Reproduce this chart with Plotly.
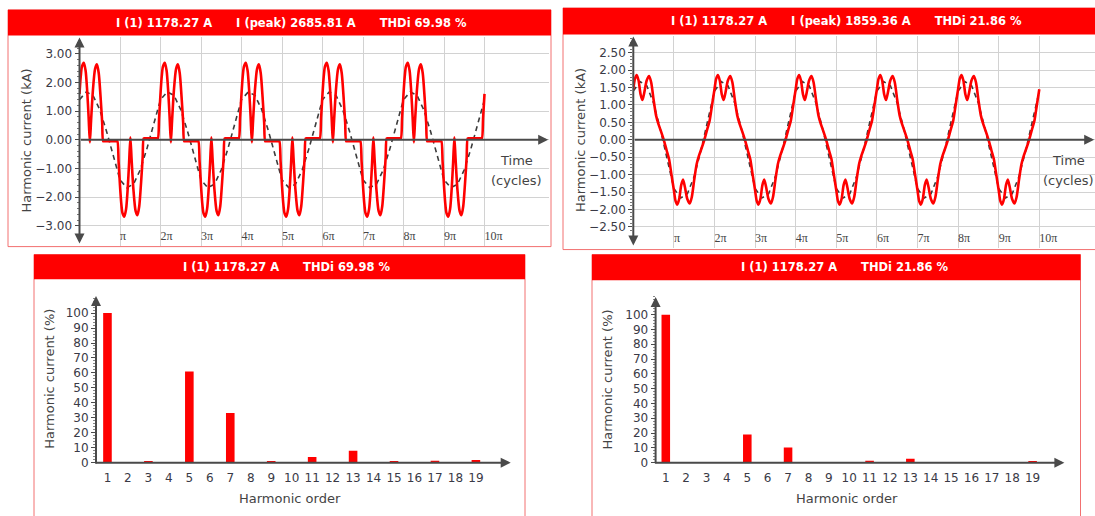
import numpy as np
import plotly.graph_objects as go

W, H = 1095, 516

# ---------------- data ----------------
# One cycle of the line current, time in multiples of pi, current in kA
left_cycle_t = [0.000, 0.030, 0.060, 0.105, 0.150, 0.190, 0.225, 0.256, 0.285, 0.330,
                0.385, 0.430, 0.475, 0.520, 0.560, 0.585, 0.620, 0.900, 0.935, 0.965,
                1.000, 1.030, 1.060, 1.105, 1.150, 1.190, 1.225, 1.256, 1.285, 1.330,
                1.385, 1.430, 1.475, 1.520, 1.560, 1.585, 1.620, 1.900, 1.935, 1.965]
left_cycle_i = [1.60, 2.20, 2.55, 2.68581, 2.42, 1.70, 0.80, -0.09, 0.65, 1.71,
                2.48, 2.63, 2.32, 1.50, 0.60, -0.05, -0.05, -0.05, -0.05, -0.75,
                -1.60, -2.20, -2.55, -2.68581, -2.42, -1.70, -0.80, 0.09, -0.65, -1.71,
                -2.48, -2.63, -2.32, -1.50, -0.60, 0.05, 0.05, 0.05, 0.05, 0.75]

right_cycle_t = [0.000, 0.040, 0.085, 0.130, 0.180, 0.225, 0.270, 0.330, 0.390, 0.440,
                 0.500, 0.560, 0.620, 0.680, 0.750, 0.820, 0.880, 0.940,
                 1.000, 1.040, 1.085, 1.130, 1.180, 1.225, 1.270, 1.330, 1.390, 1.440,
                 1.500, 1.560, 1.620, 1.680, 1.750, 1.820, 1.880, 1.940]
right_cycle_i = [1.45, 1.75, 1.85936, 1.70, 1.30, 1.14, 1.35, 1.70, 1.83, 1.65,
                 1.15, 0.70, 0.45, 0.25, 0.00, -0.30, -0.55, -1.00,
                 -1.45, -1.75, -1.85936, -1.70, -1.30, -1.14, -1.35, -1.70, -1.83, -1.65,
                 -1.15, -0.70, -0.45, -0.25, 0.00, 0.30, 0.55, 1.00]

# Fundamental component (dashed), same for both cases
fund_cycle_t = [0.000, 0.167, 0.333, 0.500, 0.667, 0.833,
                1.000, 1.167, 1.333, 1.500, 1.667, 1.833]
fund_cycle_i = [1.40, 1.67, 1.55, 1.05, 0.30, -0.55,
                -1.40, -1.67, -1.55, -1.05, -0.30, 0.55]

n_cycles = 5
pi_tick_vals = [1, 2, 3, 4, 5, 6, 7, 8, 9, 10]
pi_tick_text = ["π", "2π", "3π", "4π", "5π", "6π", "7π", "8π", "9π", "10π"]
left_kA_ticks = [-3, -2, -1, 0, 1, 2, 3]
right_kA_ticks = [-2.5, -2.0, -1.5, -1.0, -0.5, 0.0, 0.5, 1.0, 1.5, 2.0, 2.5]

# Harmonic spectrum, % of fundamental
harmonic_order = [1, 2, 3, 4, 5, 6, 7, 8, 9, 10, 11, 12, 13, 14, 15, 16, 17, 18, 19]
left_pct = [100, 0, 0.6, 0, 60.9, 0, 33.2, 0, 1.0, 0, 3.8, 0, 7.9, 0, 0.5, 0, 1.2, 0, 1.7]
right_pct = [100, 0, 0.4, 0, 19.1, 0, 10.2, 0, 0.4, 0, 1.2, 0, 2.7, 0, 0.4, 0, 0.4, 0, 0.8]
pct_ticks = [0, 10, 20, 30, 40, 50, 60, 70, 80, 90, 100]

i1_rms = 1178.27
i_peak = [2685.81, 1859.36]
thdi = [69.98, 21.86]

# ---------------- helpers ----------------
RED = "#ff0000"
AXIS = "#4a4a4a"
GRID = "#d2d2d2"
TXT = "#3a3a46"
FONT = "DejaVu Sans"


def fx(px):
    return px / W


def fy(py):
    return 1 - py / H


def repeat_cycles(t, i):
    tt = np.concatenate([np.asarray(t) + 2 * k for k in range(n_cycles)] + [[2 * n_cycles]])
    ii = np.concatenate([np.asarray(i)] * n_cycles + [[i[0]]])
    return tt, ii


fig = go.Figure()

# ---------------- waveform panels ----------------
wave_panels = [
    dict(x="x", y="y", cyc=(left_cycle_t, left_cycle_i), x0=79.5, x1=549, pi_px=40.5,
         zero=141.7, kA_px=29.05, top=38, bottom=249, yt=left_kA_ticks, minor=0.2),
    dict(x="x2", y="y2", cyc=(right_cycle_t, right_cycle_i), x0=633.3, x1=1095, pi_px=40.6,
         zero=141.7, kA_px=35.33, top=37, bottom=251, yt=right_kA_ticks, minor=0.1),
]

for k, p in enumerate(wave_panels):
    ft, fi = repeat_cycles(fund_cycle_t, fund_cycle_i)
    fig.add_trace(go.Scatter(x=ft, y=fi, mode="lines", xaxis=p["x"], yaxis=p["y"],
                             line=dict(color="#3c3c3c", width=1.6, dash="5px,4px"),
                             showlegend=False, hoverinfo="skip"))
    wt, wi = repeat_cycles(*p["cyc"])
    fig.add_trace(go.Scatter(x=wt, y=wi, mode="lines", xaxis=p["x"], yaxis=p["y"],
                             line=dict(color=RED, width=2.6, shape="spline", smoothing=0.7),
                             showlegend=False, hoverinfo="skip"))

    xr = [0, (p["x1"] - p["x0"]) / p["pi_px"]]
    yr = [-(p["bottom"] - p["zero"]) / p["kA_px"], (p["zero"] - p["top"]) / p["kA_px"]]
    xa = "xaxis" if k == 0 else "xaxis2"
    ya = "yaxis" if k == 0 else "yaxis2"
    fig.layout[xa] = dict(domain=[fx(p["x0"]), fx(p["x1"])], range=xr, anchor=p["y"],
                          tickvals=pi_tick_vals, ticktext=pi_tick_text,
                          ticklabelposition="inside right", ticks="",
                          ticklabelstandoff=-3,
                          tickfont=dict(family="Liberation Serif", size=12, color="#444"),
                          showgrid=True, gridcolor=GRID, gridwidth=1,
                          zeroline=False, showline=False, fixedrange=True)
    fig.layout[ya] = dict(domain=[fy(p["bottom"]), fy(p["top"])], range=yr, anchor=p["x"],
                          tickvals=p["yt"], tickformat=".2f",
                          tickfont=dict(family=FONT, size=12, color=TXT),
                          ticks="outside", ticklen=4, tickcolor=AXIS, tickwidth=1,
                          minor=dict(dtick=p["minor"], ticks="outside", ticklen=2,
                                     tickcolor="#777", showgrid=False),
                          showgrid=True, gridcolor=GRID, gridwidth=1,
                          zeroline=False, showline=False, fixedrange=True)

    # axes with arrow heads
    fig.add_annotation(x=0, y=yr[1], ax=0, ay=yr[0] + 0.02, xref=p["x"], yref=p["y"],
                       axref=p["x"], ayref=p["y"], text="", showarrow=True,
                       arrowhead=2, arrowsize=1, arrowwidth=2, arrowcolor=AXIS,
                       arrowside="end+start")
    fig.add_annotation(x=xr[1] - 0.02, y=0, ax=0, ay=0, xref=p["x"], yref=p["y"],
                       axref=p["x"], ayref=p["y"], text="", showarrow=True,
                       arrowhead=2, arrowsize=1, arrowwidth=2, arrowcolor=AXIS)

# ---------------- spectrum panels ----------------
bar_panels = [
    dict(x="x3", y="y3", vals=left_pct, x0=96, x1=510.7, xmin=0.44, xmax=20.7,
         zero=469, top=300, pct_px=1.516),
    dict(x="x4", y="y4", vals=right_pct, x0=655.6, x1=1064.4, xmin=0.50, xmax=20.56,
         zero=469, top=301, pct_px=1.50),
]
for k, p in enumerate(bar_panels):
    fig.add_trace(go.Bar(x=harmonic_order, y=p["vals"], xaxis=p["x"], yaxis=p["y"],
                         marker=dict(color=RED, line=dict(width=0)), width=0.42,
                         showlegend=False, hoverinfo="skip"))
    yr = [0, (p["zero"] - p["top"]) / p["pct_px"]]
    xa = "xaxis3" if k == 0 else "xaxis4"
    ya = "yaxis3" if k == 0 else "yaxis4"
    fig.layout[xa] = dict(domain=[fx(p["x0"]), fx(p["x1"])], range=[p["xmin"], p["xmax"]],
                          anchor=p["y"], tickvals=harmonic_order,
                          ticktext=[str(h) for h in harmonic_order], ticks="",
                          ticklabelstandoff=6,
                          tickfont=dict(family=FONT, size=12, color=TXT),
                          showgrid=False, zeroline=False, showline=False, fixedrange=True)
    fig.layout[ya] = dict(domain=[fy(p["zero"]), fy(p["top"])], range=yr, anchor=p["x"],
                          tickvals=pct_ticks, tickfont=dict(family=FONT, size=12, color=TXT),
                          ticks="outside", ticklen=4, tickcolor=AXIS,
                          minor=dict(dtick=2, ticks="outside", ticklen=2, tickcolor="#888"),
                          showgrid=False, zeroline=False, showline=False, fixedrange=True)
    fig.add_annotation(x=p["xmin"], y=yr[1], ax=p["xmin"], ay=-1.5, xref=p["x"], yref=p["y"],
                       axref=p["x"], ayref=p["y"], text="", showarrow=True,
                       arrowhead=2, arrowsize=1, arrowwidth=2, arrowcolor=AXIS)
    fig.add_annotation(x=p["xmax"], y=0, ax=p["xmin"] - 0.1, ay=0, xref=p["x"], yref=p["y"],
                       axref=p["x"], ayref=p["y"], text="", showarrow=True,
                       arrowhead=2, arrowsize=1, arrowwidth=2, arrowcolor=AXIS)

# ---------------- frames, header bars and labels ----------------
GAP = "\u00a0" * 6
frames = [
    dict(x0=8, x1=551, y0=10, y1=250, hy1=36, cx=291,
         text=f"I (1) {i1_rms:.2f} A{GAP}I (peak) {i_peak[0]:.2f} A{GAP}THDi {thdi[0]:.2f} %"),
    dict(x0=563, x1=1110, y0=8, y1=253, hy1=35, cx=846.5,
         text=f"I (1) {i1_rms:.2f} A{GAP}I (peak) {i_peak[1]:.2f} A{GAP}THDi {thdi[1]:.2f} %"),
    dict(x0=34, x1=525, y0=258, y1=530, hy1=283, cx=286.7,
         text=f"I (1) {i1_rms:.2f} A{GAP}THDi {thdi[0]:.2f} %"),
    dict(x0=592, x1=1080.5, y0=258, y1=530, hy1=284, cx=844,
         text=f"I (1) {i1_rms:.2f} A{GAP}THDi {thdi[1]:.2f} %"),
]
for f in frames:
    fig.add_shape(type="rect", xref="paper", yref="paper", x0=fx(f["x0"]), x1=fx(f["x1"]),
                  y0=fy(f["y1"]), y1=fy(f["y0"]), line=dict(color="#f27070", width=1),
                  fillcolor="rgba(0,0,0,0)", layer="above")
    fig.add_shape(type="rect", xref="paper", yref="paper", x0=fx(f["x0"]), x1=fx(f["x1"]),
                  y0=fy(f["hy1"]), y1=fy(f["y0"]), line=dict(width=0), fillcolor=RED,
                  layer="above")
    fig.add_annotation(x=fx(f["cx"]), y=fy((f["y0"] + f["hy1"]) / 2), xref="paper",
                       yref="paper", text=f["text"], showarrow=False,
                       font=dict(family=FONT, size=11.5, color="white", weight="bold"),
                       xanchor="center", yanchor="middle")

axis_titles = [
    ("Harmonic current (kA)", 27, 142.5, -90),
    ("Harmonic current (kA)", 580.5, 142.5, -90),
    ("Harmonic current (%)", 50, 384, -90),
    ("Harmonic current (%)", 607.8, 385, -90),
    ("Harmonic order", 290, 505, 0),
    ("Harmonic order", 846.7, 505, 0),
    ("Time", 516, 163, 0),
    ("(cycles)", 516, 183, 0),
    ("Time", 1068.5, 163, 0),
    ("(cycles)", 1068.5, 183, 0),
]
for text, px, py, ang in axis_titles:
    fig.add_annotation(x=fx(px), y=fy(py), xref="paper", yref="paper", text=text,
                       showarrow=False, textangle=ang,
                       font=dict(family=FONT, size=13, color="#444"),
                       xanchor="center", yanchor="middle")

fig.update_layout(width=W, height=H, margin=dict(l=0, r=0, t=0, b=0),
                  paper_bgcolor="white", plot_bgcolor="white",
                  font=dict(family=FONT), showlegend=False)

fig.write_html("out.html")
